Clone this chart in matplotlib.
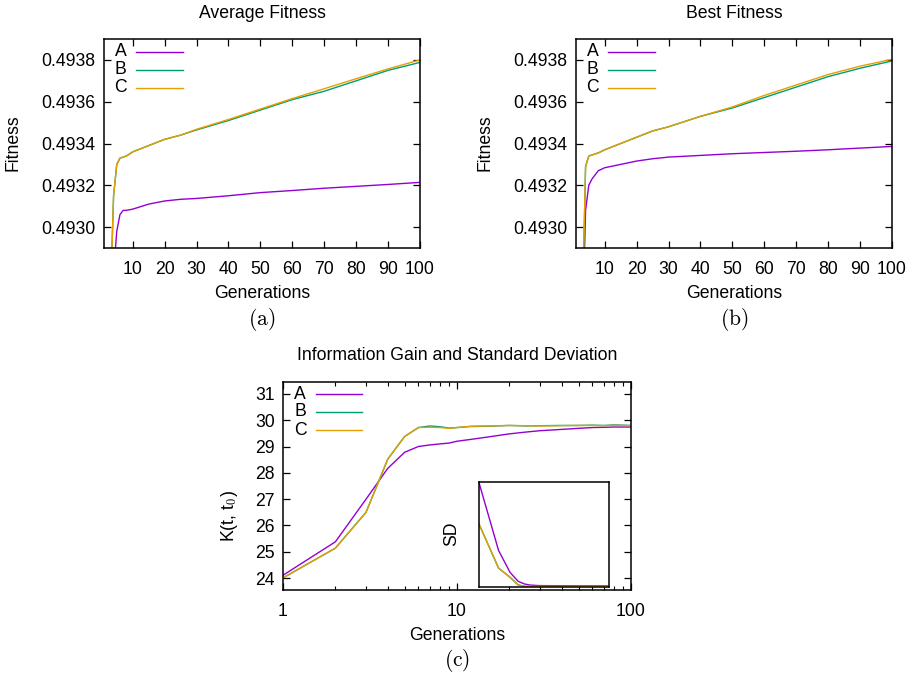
import matplotlib
matplotlib.use("Agg")
import matplotlib.pyplot as plt
from matplotlib.ticker import FixedLocator, NullLocator, LogLocator, NullFormatter

plt.rcParams['font.family'] = ['Liberation Sans', 'DejaVu Sans']
plt.rcParams['mathtext.fontset'] = 'cm'

# ---------------- data ----------------
gens_fit = [1, 2, 3, 4, 5, 6, 7, 8, 10, 15, 20, 25, 30, 40, 50, 60, 70, 80, 90, 100]

avg_A = [0.4918, 0.4922, 0.4925, 0.49278, 0.49298, 0.49306, 0.49308, 0.49308, 0.493086,
         0.49311, 0.493125, 0.493133, 0.493137, 0.49315, 0.493165, 0.493175, 0.493186,
         0.493195, 0.493204, 0.493214]
avg_B = [0.4920, 0.4923, 0.49265, 0.49315, 0.49330, 0.49333, 0.493335, 0.49334, 0.49336,
         0.49339, 0.49342, 0.49344, 0.493465, 0.49351, 0.49356, 0.49361, 0.49365,
         0.49370, 0.49375, 0.493788]
avg_C = [0.4920, 0.4923, 0.49265, 0.49315, 0.49330, 0.49333, 0.493335, 0.49334, 0.49336,
         0.49339, 0.49342, 0.49344, 0.493468, 0.493515, 0.493565, 0.493615, 0.493662,
         0.49371, 0.493757, 0.49380]

best_A = [0.4918, 0.4922, 0.4925, 0.49308, 0.49320, 0.49323, 0.49325, 0.49327, 0.493284,
          0.49330, 0.493316, 0.493327, 0.493335, 0.493343, 0.493351, 0.493357, 0.493363,
          0.49337, 0.493378, 0.493386]
best_B = [0.4920, 0.4923, 0.49260, 0.49329, 0.49334, 0.493345, 0.49335, 0.493355, 0.49337,
          0.49340, 0.49343, 0.49346, 0.49348, 0.49353, 0.49357, 0.49362, 0.49367,
          0.49372, 0.49376, 0.493795]
best_C = [0.4920, 0.4923, 0.49260, 0.49329, 0.49334, 0.493345, 0.49335, 0.493355, 0.49337,
          0.49340, 0.49343, 0.49346, 0.49348, 0.49353, 0.493575, 0.49363, 0.49368,
          0.49373, 0.49377, 0.493803]

gens_ig = [1, 2, 3, 4, 5, 6, 7, 8, 9, 10, 12, 15, 20, 25, 30, 40, 50, 60, 70, 80, 90, 100]
ig_A = [24.11, 25.38, 27.0, 28.17, 28.78, 29.0, 29.06, 29.1, 29.13, 29.2, 29.27, 29.36,
        29.48, 29.55, 29.6, 29.65, 29.69, 29.72, 29.73, 29.74, 29.74, 29.74]
ig_B = [24.01, 25.14, 26.5, 28.52, 29.38, 29.72, 29.78, 29.75, 29.7, 29.72, 29.76, 29.77,
        29.8, 29.78, 29.79, 29.8, 29.8, 29.81, 29.8, 29.82, 29.81, 29.8]
ig_C = [24.01, 25.14, 26.5, 28.52, 29.38, 29.72, 29.73, 29.72, 29.69, 29.72, 29.77, 29.78,
        29.8, 29.79, 29.78, 29.79, 29.8, 29.8, 29.79, 29.8, 29.8, 29.79]

gens_sd = [1, 2, 3, 4, 5, 6, 8, 10, 20, 50, 100]
sd_A = [0.994, 0.348, 0.14, 0.054, 0.029, 0.019, 0.014, 0.013, 0.012, 0.011, 0.011]
sd_B = [0.60, 0.18, 0.093, 0.02, 0.006, 0.005, 0.005, 0.005, 0.005, 0.005, 0.005]
sd_C = [0.60, 0.18, 0.093, 0.02, 0.006, 0.005, 0.005, 0.005, 0.005, 0.005, 0.005]

series_labels = ['A', 'B', 'C']
colors = ['#9400d3', '#009e73', '#e69f00']

fit_yticks = [0.4930, 0.4932, 0.4934, 0.4936, 0.4938]
fit_xticks = [10, 20, 30, 40, 50, 60, 70, 80, 90, 100]
ig_yticks = [24, 25, 26, 27, 28, 29, 30, 31]

# ---------------- figure ----------------
W, H = 914, 675
fig = plt.figure(figsize=(W / 100, H / 100), dpi=100)

FS = 12.7
LW = 1.0


def rect(l, t, r, b):
    return [l / W, 1 - b / H, (r - l) / W, (b - t) / H]


def ftext(x, y, s, **kw):
    fig.text(x / W, 1 - y / H, s, **kw)


def style(ax):
    for sp in ax.spines.values():
        sp.set_linewidth(1.1)
        sp.set_color('black')
    ax.tick_params(which='major', direction='in', length=5, width=0.9,
                   top=True, right=True, labelsize=FS, pad=6)
    ax.tick_params(which='minor', direction='in', length=3, width=0.8,
                   top=True, right=True)


def legend(ax, lx, x0, x1, ys):
    for lab, col, yy in zip(series_labels, colors, ys):
        ax.text(lx, yy, lab, transform=ax.transAxes, ha='center', va='center',
                fontsize=FS)
        ax.plot([x0, x1], [yy, yy], transform=ax.transAxes, color=col, lw=LW,
                clip_on=False)


def fitness_panel(box, A, B, C):
    ax = fig.add_axes(rect(*box))
    for ys, col in zip([A, B, C], colors):
        ax.plot(gens_fit, ys, color=col, lw=LW)
    ax.set_xlim(1, 100)
    ax.set_ylim(0.49290, 0.49390)
    ax.xaxis.set_major_locator(FixedLocator(fit_xticks))
    ax.yaxis.set_major_locator(FixedLocator(fit_yticks))
    ax.set_yticklabels(['%.4f' % v for v in fit_yticks])
    style(ax)
    ax.tick_params(axis='x', pad=9)
    legend(ax, 0.052, 0.102, 0.25, [0.938, 0.852, 0.766])
    return ax


# (a)
axa = fitness_panel((104, 39, 420, 248), avg_A, avg_B, avg_C)
ftext(262, 13, 'Average Fitness', ha='center', va='center', fontsize=FS)
ftext(262, 293, 'Generations', ha='center', va='center', fontsize=FS)
ftext(262, 319, r'$\mathrm{(a)}$', ha='center', va='center', fontsize=15.5)
ftext(13, 143, 'Fitness', ha='center', va='center', rotation=90, fontsize=FS)

# (b)
axb = fitness_panel((576, 39, 892, 248), best_A, best_B, best_C)
ftext(734, 13, 'Best Fitness', ha='center', va='center', fontsize=FS)
ftext(734, 293, 'Generations', ha='center', va='center', fontsize=FS)
ftext(734, 319, r'$\mathrm{(b)}$', ha='center', va='center', fontsize=15.5)
ftext(485, 143, 'Fitness', ha='center', va='center', rotation=90, fontsize=FS)

# (c)
axc = fig.add_axes(rect(283, 382, 631, 590))
for ys, col in zip([ig_A, ig_B, ig_C], colors):
    axc.plot(gens_ig, ys, color=col, lw=LW)
axc.set_xscale('log')
axc.set_xlim(1, 100)
axc.set_ylim(23.55, 31.45)
axc.xaxis.set_major_locator(FixedLocator([1, 10, 100]))
axc.set_xticklabels(['1', '10', '100'])
axc.xaxis.set_minor_locator(LogLocator(base=10, subs=range(2, 10)))
axc.xaxis.set_minor_formatter(NullFormatter())
axc.yaxis.set_major_locator(FixedLocator(ig_yticks))
axc.yaxis.set_minor_locator(NullLocator())
style(axc)
axc.tick_params(axis='x', pad=9)
legend(axc, 0.049, 0.094, 0.226, [0.942, 0.857, 0.769])
ftext(457, 355, 'Information Gain and Standard Deviation', ha='center', va='center',
      fontsize=FS)
ftext(457, 635, 'Generations', ha='center', va='center', fontsize=FS)
ftext(457, 660, r'$\mathrm{(c)}$', ha='center', va='center', fontsize=15.5)
ftext(229, 516, r'K(t, t$_0$)', ha='center', va='center', rotation=90, fontsize=FS)

# inset
axi = fig.add_axes(rect(479, 482, 609, 587))
for ys, col in zip([sd_A, sd_B, sd_C], colors):
    axi.plot(gens_sd, ys, color=col, lw=LW)
axi.set_xscale('log')
axi.set_xlim(1, 100)
axi.set_ylim(0, 1)
axi.set_xticks([])
axi.set_yticks([])
axi.xaxis.set_minor_locator(NullLocator())
for sp in axi.spines.values():
    sp.set_linewidth(1.1)
    sp.set_color('black')
ftext(452, 534, 'SD', ha='center', va='center', rotation=90, fontsize=FS)

fig.savefig('out.png', dpi=100)
